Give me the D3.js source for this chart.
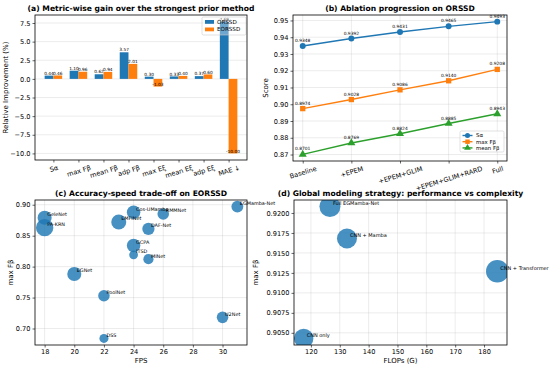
<!DOCTYPE html>
<html>
<head>
<meta charset="utf-8">
<script src="https://cdn.jsdelivr.net/npm/d3@7"></script>
<style>
body { margin: 0; background: #fff; }
text { font-family: "DejaVu Sans", sans-serif; fill: #000; }
</style>
</head>
<body>
<div id="chart-container"></div>
<script>
// (a) relative gain per metric
var metrics = ["S\u03b1", "max F\u03b2", "mean F\u03b2", "adp F\u03b2", "max E\u03be", "mean E\u03be", "adp E\u03be", "MAE \u2193"];
var gain_orssd = [0.44, 1.10, 0.62, 3.57, 0.30, 0.33, 0.37, 7.69];
var gain_eorssd = [0.46, 0.96, 0.94, 2.01, -1.03, 0.40, 0.60, -10.00];
var gain_ticks = [-10, -7.5, -5, -2.5, 0, 2.5, 5, 7.5];

// (b) ablation
var stages = ["Baseline", "+EPEM", "+EPEM+GLIM", "+EPEM+GLIM+RARD", "Full"];
var sa_scores = [0.9348, 0.9392, 0.9431, 0.9465, 0.9493];
var maxf_scores = [0.8974, 0.9028, 0.9086, 0.9140, 0.9208];
var meanf_scores = [0.8701, 0.8769, 0.8824, 0.8885, 0.8943];

// (c) accuracy vs speed
var methods = ["GeleNet", "PA-KRN", "Cos-UMamba", "RMMNet", "EMFINet", "DAF-Net", "GCPA", "ITSD", "MINet", "EGNet", "PoolNet", "U2Net", "DSS", "EGMamba-Net"];
var method_fps = [18, 18, 24, 26, 23, 25, 24, 24, 25, 20, 22, 30, 22, 31];
var method_maxf = [0.879, 0.863, 0.888, 0.885, 0.872, 0.861, 0.834, 0.819, 0.812, 0.788, 0.753, 0.718, 0.684, 0.897];
var method_params = [92, 141, 85, 62, 105, 70, 85, 36, 48, 92, 62, 62, 38, 66];

// (d) global modelling strategy
var strategies = ["CNN only", "Full EGMamba-Net", "CNN + Mamba", "CNN + Transformer"];
var strategy_flops = [117.5, 126.6, 132.5, 184.6];
var strategy_maxf = [0.9043, 0.9208, 0.9168, 0.9127];
var strategy_params = [25.8, 30.2, 27.4, 35.0];

var blue = "#1f77b4", orange = "#ff7f0e", green = "#2ca02c";

var svg = d3.select("#chart-container")
	.append("svg")
	.attr("width", 550)
	.attr("height", 366);

function padded(ext, f) {
	var r = ext[1] - ext[0];
	return [ext[0] - r * f, ext[1] + r * f];
}

function make_panel(box, x, y, opts) {
	var g = svg.append("g");
	if (opts.xgrid) {
		g.selectAll(".xg").data(opts.xticks).enter().append("line")
			.attr("x1", d => x(d)).attr("x2", d => x(d))
			.attr("y1", box.top).attr("y2", box.bottom)
			.attr("stroke", "#b0b0b0").attr("stroke-opacity", 0.35).attr("stroke-width", 0.7);
	}
	g.selectAll(".yg").data(opts.yticks).enter().append("line")
		.attr("x1", box.left).attr("x2", box.right)
		.attr("y1", d => y(d)).attr("y2", d => y(d))
		.attr("stroke", "#b0b0b0").attr("stroke-opacity", 0.35).attr("stroke-width", 0.7);

	var ya = g.append("g")
		.attr("transform", "translate(" + box.left + ",0)")
		.call(d3.axisLeft(y).tickValues(opts.yticks).tickFormat(d3.format(opts.yfmt)).tickSize(2.5).tickPadding(2));
	ya.select(".domain").remove();
	ya.selectAll("text").style("font-size", "6.6px").style("font-family", "DejaVu Sans");
	ya.selectAll("line").attr("stroke-width", 0.6);

	var xa = g.append("g")
		.attr("transform", "translate(0," + box.bottom + ")")
		.call(d3.axisBottom(x).tickValues(opts.xticks).tickFormat(opts.xfmt).tickSize(2.5).tickPadding(2));
	xa.select(".domain").remove();
	xa.selectAll("line").attr("stroke-width", 0.6);
	xa.selectAll("text").style("font-size", "6.6px").style("font-family", "DejaVu Sans");
	if (opts.rotate) {
		xa.selectAll("text").each(function() {
			var t = d3.select(this);
			var w = this.getComputedTextLength();
			var a = 17 * Math.PI / 180;
			var h = 6.6;
			var cy = 4.5 + (w * Math.sin(a) + h * Math.cos(a)) / 2;
			t.attr("y", null).attr("dy", null)
				.attr("text-anchor", "middle")
				.attr("dominant-baseline", "central")
				.attr("transform", "translate(0," + cy + ") rotate(-17)");
		});
	}
	return g;
}

function frame(box) {
	svg.append("rect")
		.attr("x", box.left).attr("y", box.top)
		.attr("width", box.right - box.left).attr("height", box.bottom - box.top)
		.attr("fill", "none").attr("stroke", "#000").attr("stroke-width", 0.8);
}

function title(box, txt, ty) {
	svg.append("text")
		.attr("x", (box.left + box.right) / 2).attr("y", ty)
		.attr("text-anchor", "middle")
		.style("font-size", "7.6px").style("font-weight", "bold")
		.text(txt);
}

function ylabel(txt, x, y) {
	svg.append("text")
		.attr("transform", "translate(" + x + "," + y + ") rotate(-90)")
		.attr("text-anchor", "middle")
		.style("font-size", "7px")
		.text(txt);
}

function xlabel(txt, x, y) {
	svg.append("text")
		.attr("x", x).attr("y", y)
		.attr("text-anchor", "middle")
		.style("font-size", "7px")
		.text(txt);
}

// ---------- (a) ----------
var boxA = {left: 35, right: 247, top: 15, bottom: 160};
var bw = 0.35;
var xA = d3.scaleLinear().domain(padded([-bw, metrics.length - 1 + bw], 0.05)).range([boxA.left, boxA.right]);
var yA = d3.scaleLinear().domain(padded([d3.min(gain_eorssd), d3.max(gain_orssd)], 0.05)).range([boxA.bottom, boxA.top]);
make_panel(boxA, xA, yA, {
	xticks: d3.range(metrics.length), xfmt: i => metrics[i], rotate: true,
	yticks: gain_ticks, yfmt: ".1f"
});

var barsA = svg.append("g");
[[gain_orssd, blue, -1], [gain_eorssd, orange, 0]].forEach(function(s) {
	barsA.selectAll(null).data(s[0]).enter().append("rect")
		.attr("x", (d, i) => xA(i + s[2] * bw))
		.attr("width", xA(bw) - xA(0))
		.attr("y", d => yA(Math.max(0, d)))
		.attr("height", d => Math.abs(yA(d) - yA(0)))
		.attr("fill", s[1]);
	barsA.selectAll(null).data(s[0]).enter().append("text")
		.attr("x", (d, i) => xA(i + s[2] * bw + bw / 2))
		.attr("y", d => yA(d) - 0.8)
		.attr("text-anchor", "middle")
		.style("font-size", "4.3px")
		.text(d => d.toFixed(2));
});

// legend drawn over the bars, frame mostly see-through
var legA = svg.append("g").attr("transform", "translate(202,17)");
legA.append("rect").attr("width", 44).attr("height", 18).attr("rx", 1.5)
	.attr("fill", "#fff").attr("fill-opacity", 0.35).attr("stroke", "#ccc").attr("stroke-width", 0.6);
[["ORSSD", blue], ["EORSSD", orange]].forEach(function(e, i) {
	legA.append("rect").attr("x", 3).attr("y", 3 + i * 7.5).attr("width", 9).attr("height", 3.8).attr("fill", e[1]);
	legA.append("text").attr("x", 15).attr("y", 6.6 + i * 7.5).style("font-size", "5.6px").text(e[0]);
});
frame(boxA);
title(boxA, "(a) Metric-wise gain over the strongest prior method", 10.5);
ylabel("Relative Improvement (%)", 8, (boxA.top + boxA.bottom) / 2);

// ---------- (b) ----------
var boxB = {left: 293, right: 507, top: 15, bottom: 161};
var xB = d3.scaleLinear().domain(padded([0, stages.length - 1], 0.05)).range([boxB.left, boxB.right]);
var allB = sa_scores.concat(maxf_scores, meanf_scores);
var yB = d3.scaleLinear().domain(padded(d3.extent(allB), 0.05)).range([boxB.bottom, boxB.top]);
make_panel(boxB, xB, yB, {
	xgrid: true, xticks: d3.range(stages.length), xfmt: i => stages[i], rotate: true,
	yticks: d3.range(0.87, 0.9501, 0.01), yfmt: ".2f"
});

var seriesB = [
	{name: "S\u03b1", vals: sa_scores, color: blue, mark: d3.symbolCircle, size: 28},
	{name: "max F\u03b2", vals: maxf_scores, color: orange, mark: d3.symbolSquare, size: 28},
	{name: "mean F\u03b2", vals: meanf_scores, color: green, mark: d3.symbolTriangle, size: 28}
];
var line = d3.line().x((d, i) => xB(i)).y(d => yB(d));
seriesB.forEach(function(s) {
	svg.append("path").attr("d", line(s.vals))
		.attr("fill", "none").attr("stroke", s.color).attr("stroke-width", 1.4);
	svg.selectAll(null).data(s.vals).enter().append("path")
		.attr("d", d3.symbol().type(s.mark).size(s.size))
		.attr("transform", (d, i) => "translate(" + xB(i) + "," + yB(d) + ")")
		.attr("fill", s.color);
	svg.selectAll(null).data(s.vals).enter().append("text")
		.attr("x", (d, i) => xB(i)).attr("y", d => yB(d) - 4)
		.attr("text-anchor", "middle")
		.style("font-size", "4.4px")
		.text(d => d.toFixed(4));
});
frame(boxB);
title(boxB, "(b) Ablation progression on ORSSD", 10.5);
ylabel("Score", 268, (boxB.top + boxB.bottom) / 2);

var legB = svg.append("g").attr("transform", "translate(460,131)");
legB.append("rect").attr("width", 44).attr("height", 21).attr("rx", 1.5)
	.attr("fill", "#fff").attr("fill-opacity", 0.8).attr("stroke", "#ccc").attr("stroke-width", 0.6);
seriesB.forEach(function(s, i) {
	var yy = 4.5 + i * 6.2;
	legB.append("line").attr("x1", 2.5).attr("x2", 12.5).attr("y1", yy).attr("y2", yy)
		.attr("stroke", s.color).attr("stroke-width", 1.4);
	legB.append("path").attr("d", d3.symbol().type(s.mark).size(20))
		.attr("transform", "translate(7.5," + yy + ")").attr("fill", s.color);
	legB.append("text").attr("x", 16).attr("y", yy + 1.9).style("font-size", "5.4px").text(s.name);
});

// ---------- (c) ----------
var boxC = {left: 35, right: 247, top: 200, bottom: 345};
var xC = d3.scaleLinear().domain(padded(d3.extent(method_fps), 0.05)).range([boxC.left, boxC.right]);
var yC = d3.scaleLinear().domain(padded(d3.extent(method_maxf), 0.05)).range([boxC.bottom, boxC.top]);
var rC = d3.scaleSqrt().domain([0, 141]).range([0, 8.7]);
make_panel(boxC, xC, yC, {
	xgrid: true, xticks: d3.range(18, 31, 2), xfmt: d3.format("d"),
	yticks: [0.70, 0.75, 0.80, 0.85, 0.90], yfmt: ".2f"
});
svg.selectAll(".mc").data(methods).enter().append("circle")
	.attr("cx", (d, i) => xC(method_fps[i]))
	.attr("cy", (d, i) => yC(method_maxf[i]))
	.attr("r", (d, i) => rC(method_params[i]))
	.attr("fill", blue).attr("fill-opacity", 0.82);
svg.selectAll(".ml").data(methods).enter().append("text")
	.attr("x", (d, i) => xC(method_fps[i]) + 2.5)
	.attr("y", (d, i) => yC(method_maxf[i]) - 1.6)
	.style("font-size", "4.9px")
	.text(d => d);
frame(boxC);
title(boxC, "(c) Accuracy-speed trade-off on EORSSD", 195.5);
ylabel("max F\u03b2", 13, (boxC.top + boxC.bottom) / 2);
xlabel("FPS", (boxC.left + boxC.right) / 2, 363);

// ---------- (d) ----------
var boxD = {left: 294, right: 507, top: 200, bottom: 345};
var xD = d3.scaleLinear().domain(padded(d3.extent(strategy_flops), 0.05)).range([boxD.left, boxD.right]);
var yD = d3.scaleLinear().domain(padded(d3.extent(strategy_maxf), 0.05)).range([boxD.bottom, boxD.top]);
var rD = d3.scaleSqrt().domain([0, 35]).range([0, 11.3]);
make_panel(boxD, xD, yD, {
	xgrid: true, xticks: d3.range(120, 181, 10), xfmt: d3.format("d"),
	yticks: d3.range(0.905, 0.92001, 0.0025), yfmt: ".4f"
});
var clipD = svg.append("clipPath").attr("id", "clipD").append("rect")
	.attr("x", boxD.left).attr("y", boxD.top)
	.attr("width", boxD.right - boxD.left).attr("height", boxD.bottom - boxD.top);
var gD = svg.append("g").attr("clip-path", "url(#clipD)");
gD.selectAll("circle").data(strategies).enter().append("circle")
	.attr("cx", (d, i) => xD(strategy_flops[i]))
	.attr("cy", (d, i) => yD(strategy_maxf[i]))
	.attr("r", (d, i) => rD(strategy_params[i]))
	.attr("fill", blue).attr("fill-opacity", 0.82);
svg.selectAll(".sl").data(strategies).enter().append("text")
	.attr("x", (d, i) => xD(strategy_flops[i]) + 3)
	.attr("y", (d, i) => yD(strategy_maxf[i]) - 1.8)
	.style("font-size", "5px")
	.text(d => d);
frame(boxD);
title(boxD, "(d) Global modeling strategy: performance vs complexity", 195.5);
ylabel("max F\u03b2", 258, (boxD.top + boxD.bottom) / 2);
xlabel("FLOPs (G)", (boxD.left + boxD.right) / 2, 363);
</script>
</body>
</html>
